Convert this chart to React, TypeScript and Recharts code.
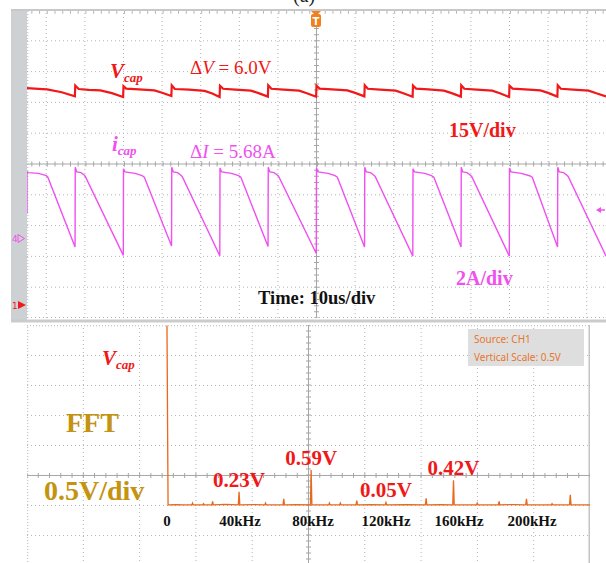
import { LineChart, Line, XAxis, YAxis, ReferenceLine, ReferenceDot } from "recharts";

// scope capture, time in us, Vcap in V, icap in A
const vcapTrace: [number, number][] = [
  [-75, 105.6], [-72, 105.3], [-69.8, 105.0], [-66, 103.6], [-62.6, 101.6],
  [-62.5, 106.9], [-61.6, 105.2], [-59, 104.8], [-56, 104.5], [-53, 103.2], [-50.1, 101.3],
  [-50, 106.6], [-49.3, 105.4], [-46, 105.0], [-42, 104.5], [-40, 103.4], [-37.6, 101.8],
  [-37.5, 107.0], [-36.7, 105.2], [-33, 104.9], [-29, 104.3], [-27, 103.0], [-25.1, 101.3],
  [-25, 106.8], [-24.2, 105.3], [-21, 104.9], [-17, 104.4], [-15, 103.2], [-12.6, 101.5],
  [-12.5, 107.0], [-11.7, 105.3], [-8.5, 104.9], [-4.5, 104.4], [-2.5, 103.1], [-0.1, 101.4],
  [0, 106.8], [0.8, 105.4], [4, 105.0], [8, 104.5], [10, 103.3], [12.4, 101.6],
  [12.5, 107.0], [13.3, 105.3], [16.5, 104.9], [20.5, 104.4], [22.5, 103.1], [24.9, 101.4],
  [25, 106.9], [25.8, 105.4], [29, 105.0], [33, 104.4], [35, 103.2], [37.4, 101.5],
  [37.5, 107.0], [38.3, 105.3], [41.5, 104.9], [45.5, 104.4], [47.5, 103.1], [49.9, 101.3],
  [50, 106.8], [50.8, 105.4], [54, 105.0], [58, 104.5], [60, 103.3], [62.4, 101.5],
  [62.5, 107.0], [63.3, 105.3], [66.5, 104.9], [70.5, 104.4], [72.5, 103.1], [75, 101.6],
];

const icapTrace: [number, number][] = [
  [-75, 1.6], [-75, 4.3], [-74.6, 4.25], [-72, 4.2], [-70, 4.05], [-69.6, 3.95], [-62.55, -0.58],
  [-62.5, 4.6], [-62.1, 4.3], [-61, 4.25], [-60.2, 4.1], [-59.9, 4.0], [-50.05, -1.12],
  [-50, 4.5], [-49.6, 4.3], [-47, 4.2], [-45.2, 4.05], [-44.6, 3.95], [-37.55, -0.52],
  [-37.5, 4.6], [-37.1, 4.3], [-36, 4.25], [-35.2, 4.1], [-34.8, 4.0], [-25.05, -1.15],
  [-25, 4.55], [-24.6, 4.3], [-22, 4.2], [-20.2, 4.05], [-19.6, 3.95], [-12.55, -0.55],
  [-12.5, 4.6], [-12.1, 4.3], [-11, 4.25], [-10.2, 4.1], [-9.8, 4.0], [-0.05, -1.0],
  [0, 4.55], [0.4, 4.3], [3, 4.2], [4.8, 4.05], [5.4, 3.95], [12.45, -0.58],
  [12.5, 4.6], [12.9, 4.3], [14, 4.25], [14.8, 4.1], [15.2, 4.0], [24.95, -1.17],
  [25, 4.5], [25.4, 4.3], [28, 4.2], [29.8, 4.05], [30.4, 3.95], [37.45, -0.58],
  [37.5, 4.6], [37.9, 4.3], [39, 4.25], [39.8, 4.1], [40.2, 4.0], [49.95, -1.17],
  [50, 4.55], [50.4, 4.3], [53, 4.2], [55.2, 4.05], [55.9, 3.95], [62.45, -0.58],
  [62.5, 4.6], [62.9, 4.3], [64, 4.25], [64.8, 4.1], [65.2, 4.0], [75, -1.17],
];

// FFT of Vcap, frequency in kHz, amplitude in V
const fftTrace: [number, number][] = [
  [0, 3.0], [0.6, 0.01], [5, 0.015], [9, 0.01], [13.6, 0.01], [14, 0.04], [14.4, 0.01],
  [19.6, 0.01], [20, 0.03], [20.4, 0.01], [24.6, 0.01], [25, 0.07], [25.4, 0.01], [32, 0.02],
  [39.1, 0.01], [39.5, 0.23], [39.9, 0.01], [47, 0.015], [53.6, 0.01], [54, 0.04], [54.4, 0.01],
  [63.6, 0.01], [64, 0.11], [64.4, 0.01], [71, 0.015], [78.6, 0.01], [79, 0.59], [79.4, 0.01],
  [88.6, 0.01], [89, 0.04], [89.4, 0.01], [94.6, 0.01], [95, 0.04], [95.4, 0.01],
  [103.6, 0.01], [104, 0.08], [104.4, 0.01], [112, 0.015], [119.6, 0.01], [120, 0.05], [120.4, 0.01],
  [131, 0.015], [141.6, 0.01], [142, 0.12], [142.4, 0.01], [150, 0.015], [156.6, 0.01], [157, 0.42],
  [157.4, 0.01], [169.6, 0.01], [170, 0.04], [170.4, 0.01], [181.6, 0.01], [182, 0.07], [182.4, 0.01],
  [190, 0.015], [196.6, 0.01], [197, 0.11], [197.4, 0.01], [210.6, 0.01], [211, 0.03], [211.4, 0.01],
  [220.6, 0.01], [221, 0.18], [221.4, 0.01], [231.8, 0.01],
];

// scope graticule: 10 us/div, 15 V/div (centre at 68.67 V)
const timeGrid = [-70, -60, -50, -40, -30, -20, -10, 10, 20, 30, 40, 50, 60, 70];
const voltRows = [8.67, 23.67, 38.67, 53.67, 83.67, 98.67, 113.67, 128.67];
const voltCentre = 68.67;
// FFT graticule: 10 columns of 30.85 kHz, 0.5 V/div
const fftCols = [-45.85, -15.0, 15.85, 46.7, 108.4, 139.25, 170.1, 200.95];
const fftCentre = 77.55;
const fftRows = [-1.5, -1, -0.5, 0, 1, 1.5, 2, 2.5];
const freqTicks = [0, 40, 80, 120, 160, 200];
const freqLabels = ["0", "40kHz", "80kHz", "120kHz", "160kHz", "200kHz"];
const peakFreqs = [39.5, 79, 120, 157];
const peakValues = [0.23, 0.59, 0.05, 0.42];
const peakLabels = ["0.23V", "0.59V", "0.05V", "0.42V"];

const vcapData = vcapTrace.map(([t, v]) => ({ t, v }));
const icapData = icapTrace.map(([t, i]) => ({ t, i }));
const fftData = fftTrace.map(([f, a]) => ({ f, a }));

const SERIF = "Liberation Serif";
const RED = "#f01818";
const MAGENTA = "#f050f0";
const ORANGE = "#e8681c";
const GOLD = "#c4930f";
const GRID = "#b4b4b4";
const AXIS = "#a6a6a6";

export default function App() {
  return (
    <div style={{ position: "absolute", left: 0, top: 0, width: 606, height: 563, overflow: "hidden", background: "#fff" }}>
      {/* time domain */}
      <div style={{ position: "absolute", left: 27, top: 10 }}>
        <LineChart width={579} height={308} margin={{ top: 0, right: 0, bottom: 0, left: 0 }}>
          <XAxis xAxisId="t" dataKey="t" type="number" domain={[-75, 75]} hide allowDataOverflow />
          <YAxis yAxisId="v" type="number" domain={[-6.33, 143.67]} hide allowDataOverflow />
          <YAxis yAxisId="i" type="number" domain={[-5.19, 14.81]} hide allowDataOverflow />
          {timeGrid.map((t) => (
            <ReferenceLine key={"x" + t} xAxisId="t" yAxisId="v" x={t} stroke={GRID} strokeDasharray="1 3" />
          ))}
          <ReferenceLine xAxisId="t" yAxisId="v" x={-74.8} stroke={GRID} strokeDasharray="1 2" />
          {voltRows.map((v) => (
            <ReferenceLine key={"y" + v} xAxisId="t" yAxisId="v" y={v} stroke={GRID} strokeDasharray="1 3" />
          ))}
          <ReferenceLine xAxisId="t" yAxisId="v" y={-6.1} stroke={GRID} strokeDasharray="1 3" />
          <ReferenceLine xAxisId="t" yAxisId="v" x={0} stroke={AXIS} />
          <ReferenceLine xAxisId="t" yAxisId="v" x={0} stroke={AXIS} strokeWidth={5} strokeDasharray="1 5.16" strokeDashoffset={0.5} />
          <ReferenceLine xAxisId="t" yAxisId="v" y={voltCentre} stroke={AXIS} />
          <ReferenceLine xAxisId="t" yAxisId="v" y={voltCentre} stroke={AXIS} strokeWidth={5} strokeDasharray="1 6.72" strokeDashoffset={-4.36} />
          <ReferenceLine xAxisId="t" yAxisId="v" y={142.6} stroke={GRID} strokeWidth={3} strokeDasharray="1 6.72" strokeDashoffset={-4.36} />
          <Line xAxisId="t" yAxisId="v" data={vcapData} dataKey="v" type="linear" stroke={RED} strokeWidth={2.2} dot={false} isAnimationActive={false} />
          <Line xAxisId="t" yAxisId="i" data={icapData} dataKey="i" type="linear" stroke={MAGENTA} strokeWidth={1.4} dot={false} isAnimationActive={false} />
        </LineChart>
      </div>

      {/* FFT */}
      <div style={{ position: "absolute", left: 27, top: 325 }}>
        <LineChart width={563} height={300} margin={{ top: 0, right: 0, bottom: 0, left: 0 }}>
          <XAxis xAxisId="f" dataKey="f" type="number" domain={[-76.7, 231.8]} hide allowDataOverflow />
          <YAxis yAxisId="a" type="number" domain={[-1.992, 3.008]} hide allowDataOverflow />
          {fftCols.map((c) => (
            <ReferenceLine key={"c" + c} xAxisId="f" yAxisId="a" x={c} stroke={GRID} strokeDasharray="1 3" />
          ))}
          <ReferenceLine xAxisId="f" yAxisId="a" x={-76.3} stroke={GRID} strokeDasharray="1 2" />
          <ReferenceLine xAxisId="f" yAxisId="a" x={231.8} stroke="#c4c4c4" strokeWidth={3} />
          {fftRows.map((r) => (
            <ReferenceLine key={"r" + r} xAxisId="f" yAxisId="a" y={r} stroke={GRID} strokeDasharray="1 3" />
          ))}
          <ReferenceLine xAxisId="f" yAxisId="a" y={2.995} stroke={GRID} strokeDasharray="1 2" />
          <ReferenceLine xAxisId="f" yAxisId="a" x={fftCentre} stroke={AXIS} />
          <ReferenceLine xAxisId="f" yAxisId="a" x={fftCentre} stroke={AXIS} strokeWidth={5} strokeDasharray="1 5" strokeDashoffset={0.5} />
          <ReferenceLine xAxisId="f" yAxisId="a" y={0.5} stroke={AXIS} />
          <ReferenceLine xAxisId="f" yAxisId="a" y={0.5} stroke={AXIS} strokeWidth={5} strokeDasharray="1 10.26" strokeDashoffset={0.5} />
          <Line xAxisId="f" yAxisId="a" data={fftData} dataKey="a" type="linear" stroke={ORANGE} strokeWidth={1.3} dot={false} isAnimationActive={false} />
          {freqTicks.map((f, k) => (
            <ReferenceDot
              key={"ft" + f}
              xAxisId="f"
              yAxisId="a"
              x={f}
              y={0}
              r={1}
              fill="none"
              stroke="none"
              label={{ value: freqLabels[k], position: "bottom", offset: 9, fill: "#111", fontSize: 15, fontWeight: "bold", fontFamily: SERIF }}
            />
          ))}
          {peakFreqs.map((f, k) => (
            <ReferenceDot
              key={"pk" + f}
              xAxisId="f"
              yAxisId="a"
              x={f}
              y={peakValues[k]}
              r={1}
              fill="none"
              stroke="none"
              label={{ value: peakLabels[k], position: "top", offset: 4, fill: RED, fontSize: 21, fontWeight: "bold", fontFamily: SERIF }}
            />
          ))}
        </LineChart>
      </div>

      {/* scope frame, markers and annotations */}
      <svg width={606} height={563} style={{ position: "absolute", left: 0, top: 0, pointerEvents: "none" }}>
        <text x={293} y={2} fontSize={20} fontFamily={SERIF} fill="#222">(a)</text>
        <rect x={11} y={10} width={16} height={311} fill="#cdd1d4" />
        <rect x={11} y={9} width={595} height={2} fill="#c8c8c8" />
        <rect x={11} y={319.5} width={595} height={3} fill="#c9cbcd" />

        <polygon points="311,11 321,11 316,16" fill="#f08020" />
        <rect x={311} y={14} width={10} height={13} rx={2} fill="#f08020" />
        <text x={316} y={25} fontSize={10} fontWeight="bold" fontFamily="DejaVu Sans" fill="#fff" textAnchor="middle">T</text>

        <text x={12} y={309} fontSize={9} fontFamily="DejaVu Sans" fill={RED}>1</text>
        <polygon points="18,301 26,305 18,309" fill={RED} />
        <text x={12} y={242} fontSize={9} fontFamily="DejaVu Sans" fill={MAGENTA}>4</text>
        <polygon points="18,234.5 24.5,238.5 18,242.5" fill="none" stroke={MAGENTA} strokeWidth={1} />
        <polygon points="596,210 601,207 601,213" fill={MAGENTA} />
        <line x1={600} y1={210} x2={605} y2={210} stroke={MAGENTA} strokeWidth={1.5} />

        <text x={110} y={78} fontSize={21} fontWeight="bold" fontStyle="italic" fontFamily={SERIF} fill={RED}>
          V<tspan fontSize={13} dy={4}>cap</tspan>
        </text>
        <text x={190} y={74} fontSize={19} fontFamily={SERIF} fill={RED}>
          Δ<tspan fontStyle="italic">V</tspan> = 6.0V
        </text>
        <text x={112} y={151} fontSize={21} fontWeight="bold" fontStyle="italic" fontFamily={SERIF} fill={MAGENTA}>
          i<tspan fontSize={13} dy={4}>cap</tspan>
        </text>
        <text x={190} y={158} fontSize={19} fontFamily={SERIF} fill={MAGENTA}>
          Δ<tspan fontStyle="italic">I</tspan> = 5.68A
        </text>
        <text x={449} y={137} fontSize={20} fontWeight="bold" fontFamily={SERIF} fill={RED}>15V/div</text>
        <text x={456} y={285} fontSize={20} fontWeight="bold" fontFamily={SERIF} fill={MAGENTA}>2A/div</text>
        <text x={258} y={304} fontSize={18.5} fontWeight="bold" fontFamily={SERIF} fill="#111">Time: 10us/div</text>

        <rect x={468} y={329} width={116} height={37} fill="#dedede" />
        <text x={474} y={343} fontSize={10} fontFamily="Noto Sans" fill="#e8762d">Source: CH1</text>
        <text x={474} y={361} fontSize={10} fontFamily="Noto Sans" fill="#e8762d">Vertical Scale: 0.5V</text>

        <text x={102} y={365} fontSize={21} fontWeight="bold" fontStyle="italic" fontFamily={SERIF} fill={RED}>
          V<tspan fontSize={13} dy={4}>cap</tspan>
        </text>
        <text x={66} y={432} fontSize={28} fontWeight="bold" fontFamily={SERIF} fill={GOLD}>FFT</text>
        <text x={44} y={500} fontSize={28} fontWeight="bold" fontFamily={SERIF} fill={GOLD}>0.5V/div</text>
      </svg>
    </div>
  );
}
